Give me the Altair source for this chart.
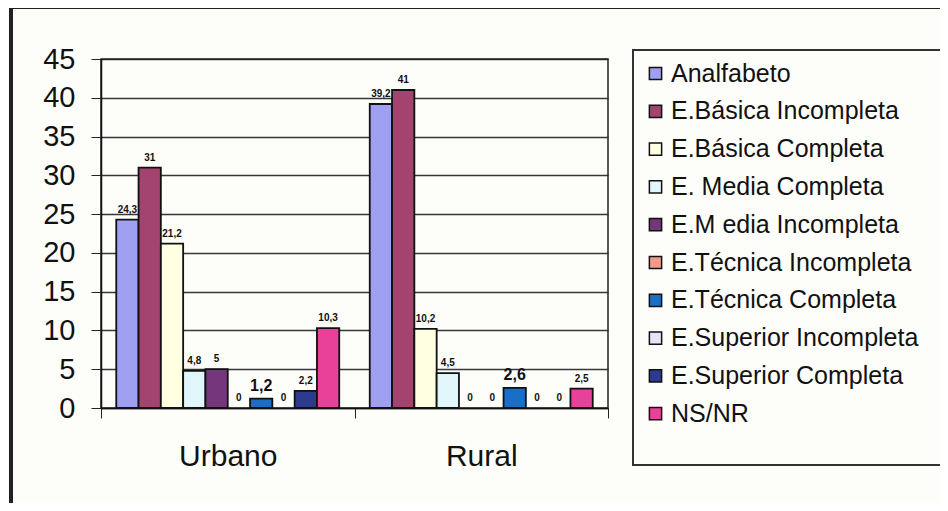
import altair as alt
import pandas as pd

zonas = ["Urbano", "Rural"]
niveles = [
    "Analfabeto",
    "E.Básica Incompleta",
    "E.Básica Completa",
    "E. Media Completa",
    "E.M edia Incompleta",
    "E.Técnica Incompleta",
    "E.Técnica Completa",
    "E.Superior Incompleta",
    "E.Superior Completa",
    "NS/NR",
]
urbano = [24.3, 31, 21.2, 4.8, 5, 0, 1.2, 0, 2.2, 10.3]
rural = [39.2, 41, 10.2, 4.5, 0, 0, 2.6, 0, 0, 2.5]
colores = ["#a0a0f2", "#a2446f", "#ffffe2", "#e0f6fa", "#76367b",
           "#f59a8a", "#1a6ec6", "#e4e4f6", "#2c3b8e", "#e8419a"]
ticks_y = [0, 5, 10, 15, 20, 25, 30, 35, 40, 45]

rows = []
for z, vals in zip(zonas, [urbano, rural]):
    for n, v in zip(niveles, vals):
        rows.append({"Zona": z, "Nivel": n, "Valor": v,
                     "Etiqueta": (f"{v:g}").replace(".", ",")})
df = pd.DataFrame(rows)

W, H = 507, 349
FONT = "Liberation Sans"

x_enc = alt.X("Zona:N", sort=zonas, title=None,
              scale=alt.Scale(paddingInner=0, paddingOuter=0),
              axis=alt.Axis(labelAngle=0, labelFontSize=30, labelFont=FONT,
                            labelColor="#111", tickBand="extent", tickSize=10,
                            tickColor="#222", domainColor="#111", domainWidth=1.5,
                            labelPadding=23, grid=False))
xoff = alt.XOffset("Nivel:N", sort=niveles,
                   scale=alt.Scale(paddingOuter=0.684, paddingInner=0))
y_enc = alt.Y("Valor:Q", title=None,
              scale=alt.Scale(domain=[0, 45], nice=False, zero=True),
              axis=alt.Axis(values=ticks_y, labelFontSize=29, labelOverlap=False,
                            labelFont=FONT, labelColor="#111", tickSize=10,
                            tickColor="#222", domainColor="#111", domainWidth=1.5,
                            labelPadding=16, grid=True, gridColor="#222",
                            gridWidth=1.3, gridOpacity=0.9))

bars = alt.Chart(df).transform_filter("datum.Valor > 0").mark_bar(
    stroke="#111", strokeWidth=1.8
).encode(
    x=x_enc, xOffset=xoff, y=y_enc,
    color=alt.Color("Nivel:N", sort=niveles,
                    scale=alt.Scale(domain=niveles, range=colores),
                    legend=alt.Legend(
                        title=None, orient="none", legendX=542, legendY=2,
                        labelFont=FONT, labelFontSize=25, labelColor="#111",
                        symbolType="square", symbolSize=150,
                        symbolStrokeColor="#111", symbolStrokeWidth=1.5,
                        symbolOpacity=1, labelOffset=3, rowPadding=11.8,
                        padding=0, labelLimit=400)),
)

labels = alt.Chart(df).mark_text(
    font=FONT, baseline="bottom", dy=-5, color="#111", fontWeight="bold"
).encode(
    x=x_enc, xOffset=xoff, y=y_enc,
    text="Etiqueta:N",
    size=alt.condition(alt.FieldOneOfPredicate(field="Valor", oneOf=[1.2, 2.6]),
                       alt.value(16), alt.value(10)),
)

legend_box = alt.Chart(df).mark_rect(
    fill=None, stroke="#333", strokeWidth=1.5, clip=False
).encode(x=alt.value(532), x2=alt.value(845), y=alt.value(-9), y2=alt.value(406))

outer = alt.Chart(df).mark_rect(
    fill=None, stroke="#222", strokeWidth=2.5, clip=False
).encode(x=alt.value(-90), x2=alt.value(860), y=alt.value(-52), y2=alt.value(449))

chart = alt.layer(outer, legend_box, bars, labels).properties(
    width=W, height=H,
    autosize=alt.AutoSizeParams(type="none"),
    padding={"left": 93, "top": 51, "right": 332, "bottom": 95},
    background="#fdfdfa",
).configure_view(stroke="#222", strokeWidth=1.5)

chart.save("out.html", embed_options={"renderer": "svg", "actions": False})
